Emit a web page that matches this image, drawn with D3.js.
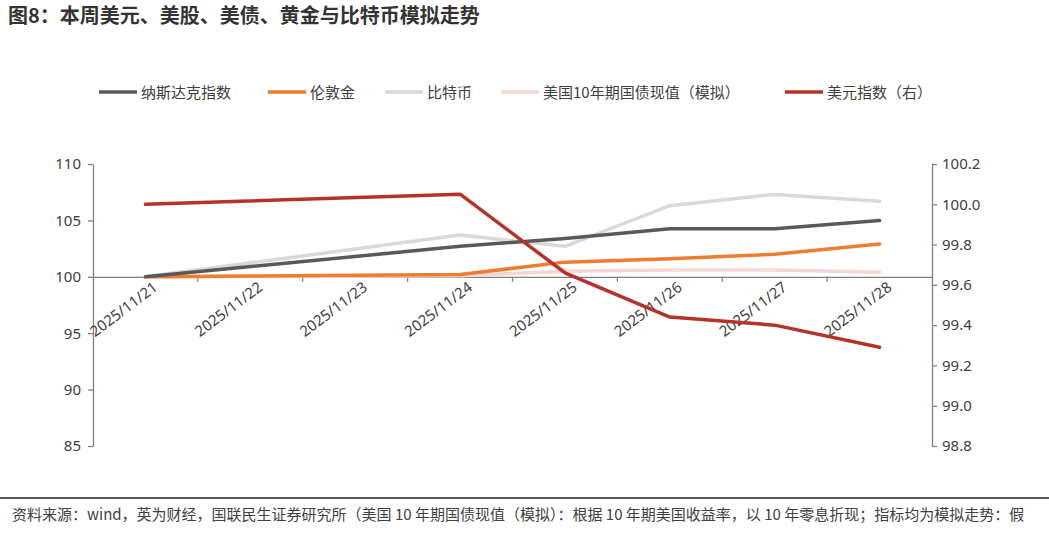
<!DOCTYPE html><html><head><meta charset="utf-8"><script src="https://d3js.org/d3.v7.min.js"></script>
<style>body{margin:0;background:#fff;font-family:"Noto Sans CJK SC","Noto Sans",sans-serif}</style></head><body><svg id="c" width="1049" height="537"></svg>
<script>
const dates=["2025/11/21","2025/11/22","2025/11/23","2025/11/24","2025/11/25","2025/11/26","2025/11/27","2025/11/28"];
const nasdaq=[100,null,null,102.7,103.4,104.25,104.25,105.0];
const gold=[100,null,null,100.2,101.3,101.6,102.0,102.9];
const btc=[100,null,null,103.7,102.7,106.3,107.3,106.7];
const bond=[100,null,null,100.1,100.5,100.6,100.6,100.4];
const dxy=[100.0,null,null,100.05,99.66,99.44,99.40,99.29];
const leftTicks=[85,90,95,100,105,110];
const rightTicks=[98.8,99.0,99.2,99.4,99.6,99.8,100.0,100.2];
const names=["纳斯达克指数","伦敦金","比特币","美国10年期国债现值（模拟）","美元指数（右）"];
const colors=["#595959","#ED7D31","#D9D9D9","#F4D6D3","#B5322A"];
const svg=d3.select("#c");
svg.append("text").attr("x",8).attr("y",23).attr("font-size",20).attr("font-weight","bold").attr("fill","#333").text("图8：本周美元、美股、美债、黄金与比特币模拟走势");
const x=d3.scaleBand().domain(dates).range([93,932]);
const yl=d3.scaleLinear().domain([85,110]).range([446,164]);
const yr=d3.scaleLinear().domain([98.8,100.2]).range([446,164]);
const fmt=d3.format(".1f");
const gl=svg.append("g").attr("transform","translate(93,0)").call(d3.axisLeft(yl).tickValues(leftTicks).tickSize(5).tickSizeOuter(0));
const gr=svg.append("g").attr("transform","translate(932,0)").call(d3.axisRight(yr).tickValues(rightTicks).tickFormat(fmt).tickSize(5).tickSizeOuter(0));
[gl,gr].forEach(g=>{g.selectAll("path,line").attr("stroke","#808080").attr("stroke-width",1.3);g.selectAll("text").attr("font-size",15).attr("fill","#404040").attr("font-family","Noto Sans, sans-serif");});
gr.selectAll("text").attr("x",10);gl.selectAll("text").attr("x",-12);
const gx=svg.append("g").attr("transform",`translate(0,${yl(100)})`).call(d3.axisBottom(x).tickSize(0));
gx.select("path").attr("stroke","#808080").attr("stroke-width",1.3);
gx.selectAll(".tick text").attr("font-size",15).attr("fill","#404040").attr("font-family","Noto Sans, sans-serif").attr("text-anchor","end").attr("transform","rotate(-37)").attr("dx","0.2em").attr("dy","1.0em");
gx.selectAll(".tick line").remove();
dates.slice(1).forEach(d=>{svg.append("line").attr("x1",x(d)).attr("x2",x(d)).attr("y1",yl(100)).attr("y2",yl(100)+5).attr("stroke","#808080").attr("stroke-width",1.3);});
const cx=d=>x(d)+x.bandwidth()/2;
const draw=(vals,y,c)=>{const pts=dates.map((d,i)=>[d,vals[i]]).filter(p=>p[1]!=null);
svg.append("path").datum(pts).attr("fill","none").attr("stroke",c).attr("stroke-width",3.5).attr("stroke-linejoin","round").attr("stroke-linecap","round").attr("d",d3.line().x(p=>cx(p[0])).y(p=>y(p[1])));};
draw(bond,yl,colors[3]);draw(btc,yl,colors[2]);draw(gold,yl,colors[1]);draw(nasdaq,yl,colors[0]);draw(dxy,yr,colors[4]);
const lx=[99,268,385,501,785];
names.forEach((n,i)=>{svg.append("line").attr("x1",lx[i]).attr("x2",lx[i]+38).attr("y1",92).attr("y2",92).attr("stroke",colors[i]).attr("stroke-width",3.5);
svg.append("text").attr("x",lx[i]+42).attr("y",97.5).attr("font-size",15).attr("fill","#404040").text(n);});
svg.append("line").attr("x1",0).attr("x2",1049).attr("y1",498).attr("y2",498).attr("stroke","#595959").attr("stroke-width",2);
svg.append("text").attr("x",12).attr("y",520).attr("font-size",15).attr("fill","#404040").text("资料来源：wind，英为财经，国联民生证券研究所（美国 10 年期国债现值（模拟）：根据 10 年期美国收益率，以 10 年零息折现；指标均为模拟走势：假");
</script></body></html>
